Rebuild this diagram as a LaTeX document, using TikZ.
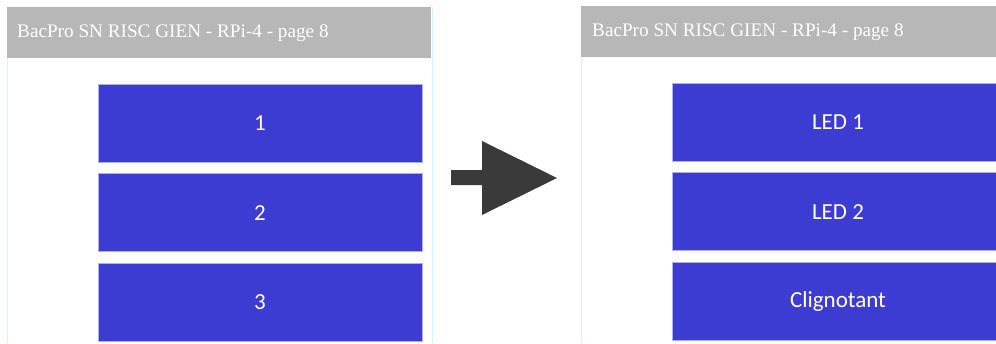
\documentclass[tikz,border=0pt]{standalone}
\usepackage{fontspec}
\setmainfont{Liberation Serif}
\newfontfamily\boxfont{Carlito}
\usetikzlibrary{positioning}
\definecolor{slideBlue}{HTML}{3C3CD2}
\definecolor{slideEdge}{HTML}{AFAFEE}
\definecolor{headGray}{HTML}{B7B7B7}
\definecolor{arrowGray}{HTML}{3A3A3A}
\definecolor{frameCyan}{HTML}{D8F6FA}

\begin{document}
\begin{tikzpicture}[x=1pt, y=-1pt,
    node distance=11pt,
    header/.style={rectangle, fill=headGray, minimum width=424pt, minimum height=51pt,
                 inner sep=0pt, anchor=north west},
    headtext/.style={font=\fontsize{19.2}{19}\selectfont\color{white}, inner sep=0pt,
                 anchor=base west},
    slidebox/.style={rectangle, draw=slideEdge, line width=0.6pt, fill=slideBlue,
                 minimum width=324pt, minimum height=78pt, inner sep=0pt,
                 font=\boxfont\fontsize{23}{23}\selectfont\color{white}},
  ]
    \useasboundingbox (0,0) rectangle (996,343);
    \clip (0,0) rectangle (996,343);

    % panel frames
    \draw[frameCyan, line width=0.8pt] (7,7) -- (7,343) (432,7) -- (432,343);
    \draw[frameCyan, line width=0.8pt] (581,6) -- (581,343);

    % left slide
    \node[header] (hdrL) at (7,7) {};
    \node[headtext] (titL) at (17,37) {BacPro SN RISC GIEN - RPi-4 - page 8};
    \node[slidebox] (b1) at (260,123) {1};
    \node[slidebox, below=of b1] (b2) {2};
    \node[slidebox, below=of b2] (b3) {3};

    % right slide
    \node[header, minimum width=415pt] (hdrR) at (581,6) {};
    \node[headtext] (titR) at (592,36) {BacPro SN RISC GIEN - RPi-4 - page 8};
    \node[slidebox, minimum width=332pt] (l1) at (838,122) {LED 1};
    \node[slidebox, minimum width=332pt, below=of l1] (l2) {LED 2};
    \node[slidebox, minimum width=332pt, below=of l2] (l3) {Clignotant};

    % block arrow
    \fill[arrowGray] (451,170) -- (482,170) -- (482,141) -- (557,178)
      -- (482,215) -- (482,185) -- (451,185) -- cycle;
  \end{tikzpicture}
\end{document}
